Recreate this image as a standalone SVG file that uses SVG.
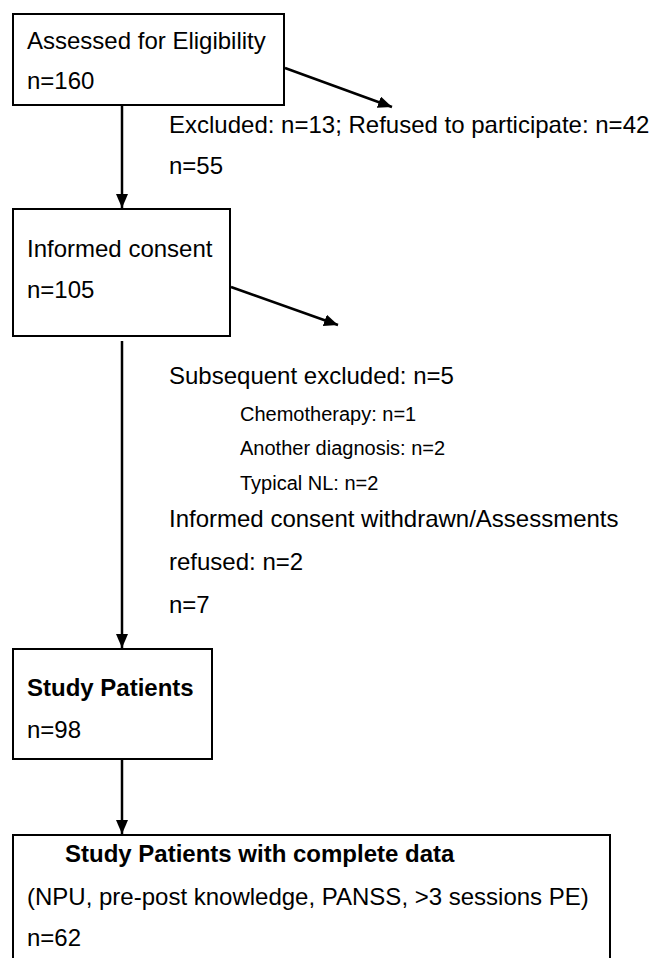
<svg xmlns="http://www.w3.org/2000/svg" width="652" height="958" viewBox="0 0 652 958">
<style>
.box{fill:#fff;stroke:#000;stroke-width:2}
.t{font-family:"Liberation Sans",Arial,sans-serif;font-size:24px;fill:#000}
.s{font-family:"Liberation Sans",Arial,sans-serif;font-size:20px;fill:#000}
.b{font-weight:bold}
.c{stroke:#000;stroke-width:2.5;fill:none;marker-end:url(#ah)}
</style>
<defs>
<marker id="ah" markerUnits="userSpaceOnUse" markerWidth="16" markerHeight="14" refX="14" refY="6" orient="auto">
<path d="M0,0 L14,6 L0,12 z" fill="#000"/>
</marker>
</defs>
<rect width="652" height="958" fill="#fff"/>
<g id="connectors">
<line class="c" x1="122" y1="106" x2="122" y2="208"/>
<line class="c" x1="285" y1="68" x2="392" y2="107"/>
<line class="c" x1="231" y1="287" x2="338" y2="325"/>
<line class="c" x1="122" y1="341" x2="122" y2="648"/>
<line class="c" x1="122" y1="760" x2="122" y2="834"/>
</g>
<g id="n1">
<rect class="box" x="13" y="14" width="271" height="91"/>
<text class="t" x="27" y="49">Assessed for Eligibility</text>
<text class="t" x="27" y="89">n=160</text>
</g>
<g id="excluded1">
<text class="t" x="169" y="133">Excluded: n=13; Refused to participate: n=42</text>
<text class="t" x="169" y="174">n=55</text>
</g>
<g id="n2">
<rect class="box" x="13" y="209" width="217" height="127"/>
<text class="t" x="27" y="257">Informed consent</text>
<text class="t" x="27" y="298">n=105</text>
</g>
<g id="excluded2">
<text class="t" x="169" y="384">Subsequent excluded: n=5</text>
<text class="s" x="240" y="421">Chemotherapy: n=1</text>
<text class="s" x="240" y="455">Another diagnosis: n=2</text>
<text class="s" x="240" y="490">Typical NL: n=2</text>
<text class="t" x="169" y="527">Informed consent withdrawn/Assessments</text>
<text class="t" x="169" y="570">refused: n=2</text>
<text class="t" x="169" y="613">n=7</text>
</g>
<g id="n3">
<rect class="box" x="13" y="649" width="199" height="110"/>
<text class="t b" x="27" y="696">Study Patients</text>
<text class="t" x="27" y="738">n=98</text>
</g>
<g id="n4">
<rect class="box" x="13" y="835" width="597" height="140"/>
<text class="t b" x="65" y="862">Study Patients with complete data</text>
<text class="t" x="27" y="905">(NPU, pre-post knowledge, PANSS, &gt;3 sessions PE)</text>
<text class="t" x="27" y="946">n=62</text>
</g>
</svg>
